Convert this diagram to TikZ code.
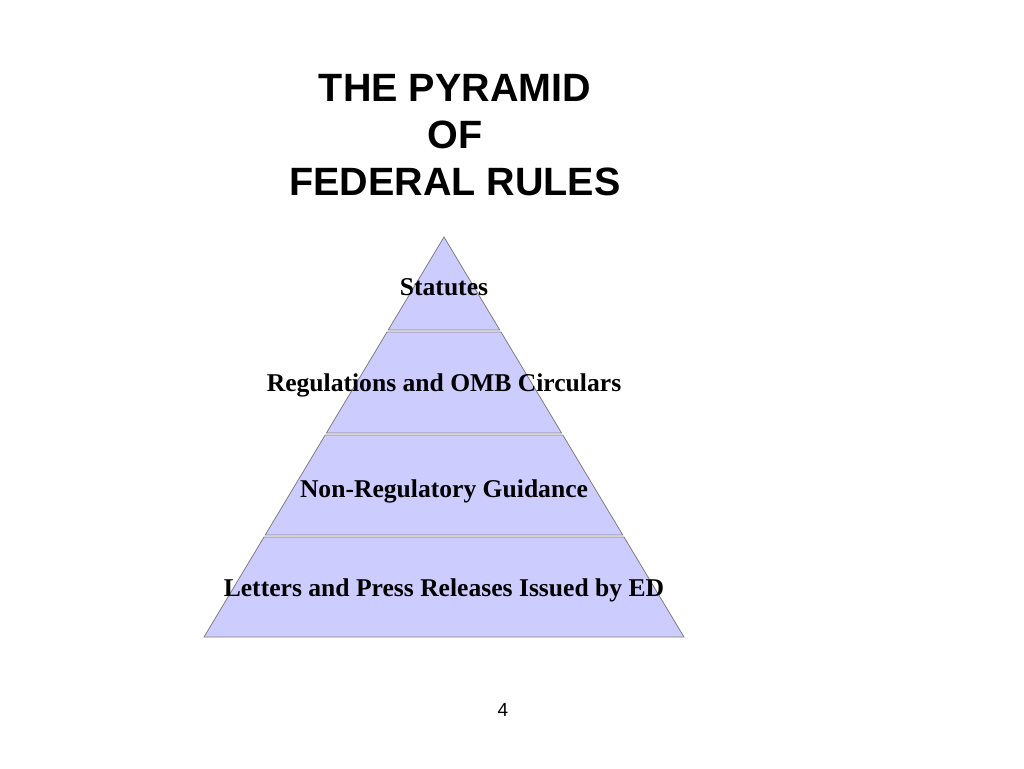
\documentclass[tikz,border=0pt]{standalone}
\usepackage{fontspec}
\setmainfont{Liberation Serif}
\newfontfamily\hd{Liberation Sans}
\begin{document}
\begin{tikzpicture}[x=1pt,y=-1pt,
  band/.style={fill={rgb,255:red,204;green,204;blue,255},draw={rgb,255:red,128;green,128;blue,128},line width=0.8pt},
  lbl/.style={font=\fontsize{25.6}{28}\selectfont\bfseries},
  ttl/.style={font=\hd\fontsize{39.5}{47}\selectfont\bfseries,align=center}]
\useasboundingbox (0,0) rectangle (1024,768);
\def\tz#1#2{ (444-0.6*#1+0.6*237,#1) -- (444+0.6*#1-0.6*237,#1) -- (444+0.6*#2-0.6*237,#2) -- (444-0.6*#2+0.6*237,#2) -- cycle}
\draw[band] (444,237) -- (444+0.6*93,330) -- (444-0.6*93,330) -- cycle;
\draw[band]\tz{332}{433};
\draw[band]\tz{435}{535};
\draw[band]\tz{537}{637};
\node[ttl] (t) at (455,135) {THE PYRAMID\\OF\\FEDERAL RULES};
\node[lbl] (s) at (444,287) {Statutes};
\node[lbl] (r) at (444,385) {Regulations and OMB Circulars};
\node[lbl] (n) at (444,491) {Non-Regulatory Guidance};
\node[lbl] (l) at (444,590) {Letters and Press Releases Issued by ED};
\node[font=\hd\fontsize{19}{22}\selectfont] (p) at (503,710) {4};
\end{tikzpicture}
\end{document}
